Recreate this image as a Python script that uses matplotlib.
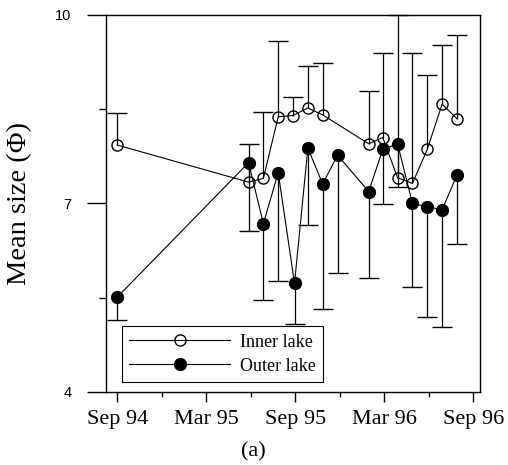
import matplotlib
matplotlib.use("Agg")
import matplotlib.pyplot as plt

# months after Sep 1994
inner_month = [0.0, 8.85, 9.85, 10.85, 11.85, 12.85, 13.85, 16.95, 17.9, 18.9, 19.9, 20.9, 21.9, 22.9]
inner_size = [7.93, 7.34, 7.40, 8.38, 8.40, 8.52, 8.41, 7.95, 8.05, 7.41, 7.32, 7.86, 8.58, 8.35]
inner_upper = [8.44, 7.94, 8.45, 9.58, 8.70, 9.19, 9.23, 8.79, 9.40, 10.0, 9.40, 9.04, 9.53, 9.68]

outer_month = [0.0, 8.85, 9.85, 10.85, 11.95, 12.85, 13.85, 14.85, 16.95, 17.9, 18.9, 19.9, 20.9, 21.9, 22.9]
outer_size = [5.51, 7.65, 6.68, 7.49, 5.73, 7.88, 7.31, 7.77, 7.19, 7.86, 7.95, 7.00, 6.95, 6.90, 7.45]
outer_lower = [5.15, 6.56, 5.47, 5.76, 5.09, 6.65, 5.32, 5.90, 5.82, 6.99, 7.27, 5.67, 5.20, 5.04, 6.35]

tick_months = [0, 6, 12, 18, 24]
tick_labels = ["Sep 94", "Mar 95", "Sep 95", "Mar 96", "Sep 96"]

serif = "Liberation Serif"

fig = plt.figure(figsize=(5.08, 4.65), dpi=100)
ax = fig.add_axes([0.2087, 0.157, 0.736, 0.8108])

# one-sided error bars: inner lake upwards, outer lake downwards
ax.vlines(inner_month, inner_size, inner_upper, color="k", lw=0.9)
ax.plot(inner_month, inner_upper, ls="none", marker="_", ms=14, mew=1.0, color="k", clip_on=False)
ax.vlines(outer_month, outer_lower, outer_size, color="k", lw=0.9)
ax.plot(outer_month, outer_lower, ls="none", marker="_", ms=14, mew=1.0, color="k")

ax.plot(inner_month, inner_size, "-o", color="k", mfc="none", mew=1.0, ms=8, lw=0.8,
        label="Inner lake", zorder=3)
ax.plot(outer_month, outer_size, "-o", color="k", ms=8.5, lw=0.8,
        label="Outer lake", zorder=3)

ax.set_xlim(-0.76, 24.45)
ax.set_ylim(4, 10)

ax.set_xticks(tick_months)
ax.set_xticklabels(tick_labels, fontfamily=serif, fontsize=16)
ax.set_xticks([3, 9, 15, 21], minor=True)
ax.set_yticks([4, 7, 10])
ax.set_yticklabels(["4", "7", "10"], fontfamily="Liberation Sans", fontsize=10.5)
ax.set_yticks([5.5, 8.5], minor=True)

ax.tick_params(axis="x", which="major", direction="out", length=7, width=1, pad=6)
ax.tick_params(axis="x", which="minor", direction="out", length=3.6, width=1)
ax.tick_params(axis="y", which="major", direction="out", length=14, width=1, pad=11)
ax.tick_params(axis="y", which="minor", direction="out", length=5, width=1)
for s in ax.spines.values():
    s.set_linewidth(1.0)

ax.set_ylabel("Mean size (Φ)", fontfamily=serif, fontsize=20.5)
ax.yaxis.set_label_coords(-0.198, 0.5)

leg = ax.legend(loc="lower left", bbox_to_anchor=(0.043, 0.0265), borderaxespad=0,
                fancybox=False, edgecolor="k", framealpha=1, numpoints=1,
                handlelength=5.6, handletextpad=0.55, labelspacing=0.4,
                prop={"family": serif, "size": 13})
leg.get_frame().set_linewidth(0.8)

fig.text(253 / 508, 1 - 452 / 465, "(a)", ha="center", va="center",
         fontfamily=serif, fontsize=16)

fig.savefig("out.png", dpi=100)
